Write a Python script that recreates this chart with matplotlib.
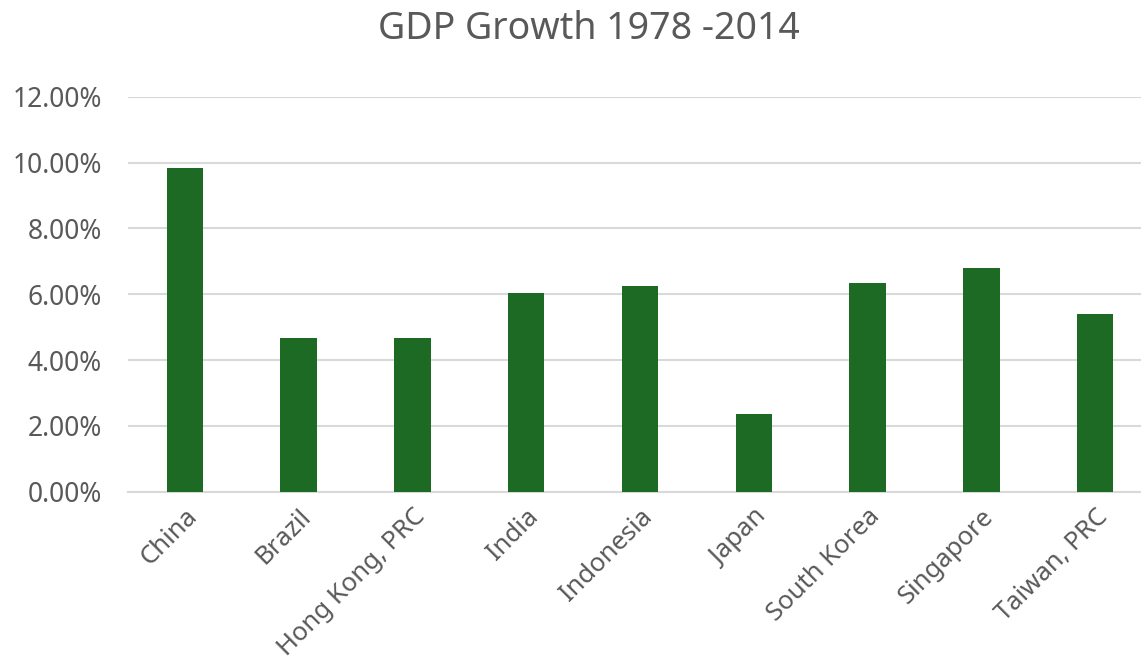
import numpy as np
import matplotlib.pyplot as plt

countries = ["China", "Brazil", "Hong Kong, PRC", "India", "Indonesia",
             "Japan", "South Korea", "Singapore", "Taiwan, PRC"]
growth = [9.82, 4.66, 4.66, 6.03, 6.24, 2.35, 6.35, 6.79, 5.39]
yticks = [0, 2, 4, 6, 8, 10, 12]

plt.rcParams['font.family'] = ['Noto Sans', 'DejaVu Sans']
txt = "#595959"

fig = plt.figure(figsize=(11.41, 6.66), dpi=100)
ax = fig.add_axes([128 / 1141, 1 - 491.7 / 666, 1024 / 1141, 395 / 666])

x = np.arange(len(countries))
ax.bar(x, growth, width=0.32, color="#1c6a24", zorder=3)

ax.set_xlim(-0.5, len(countries) - 0.5)
ax.set_ylim(0, 12)
ax.set_yticks(yticks)
ax.set_yticklabels([f"{v:.2f}%" for v in yticks], fontsize=19, color=txt)
ax.yaxis.grid(True, color="#d9d9d9", linewidth=1.5, zorder=0)
ax.tick_params(axis='y', length=0, pad=19)

ax.set_xticks(x)
ax.set_xticklabels(countries, rotation=45, ha='right', rotation_mode='anchor',
                   fontsize=18.5, color=txt)
ax.tick_params(axis='x', length=0, pad=9)

for s in ["top", "right", "left"]:
    ax.spines[s].set_visible(False)
ax.spines["bottom"].set_color("#d9d9d9")
ax.spines["bottom"].set_linewidth(1.5)

fig.text(589 / 1141, 1 - 29 / 666, "GDP Growth 1978 -2014", ha='center', va='center',
         fontsize=27, color=txt)

fig.savefig("out.png", dpi=100)
